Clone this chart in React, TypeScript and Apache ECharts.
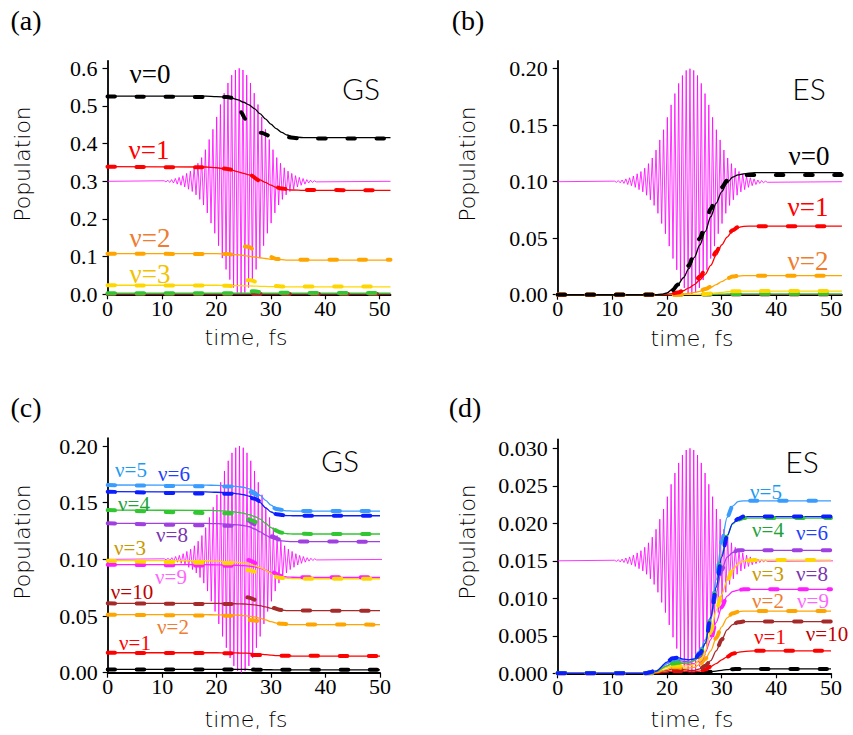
import React, { useEffect, useRef } from 'react';
import * as echarts from 'echarts';

type Pt = [number, number];

// ---------- laser pulse (carrier extrema, relative envelope per cycle) ----------
const PULSE_CENTER = 24.2; // fs
const PULSE_PERIOD = 0.69; // fs
const PULSE_ENV = [
  0.005, 0.01, 0.015, 0.025, 0.035, 0.05, 0.07, 0.09, 0.12, 0.16, 0.21, 0.28, 0.37, 0.46, 0.57, 0.68, 0.78, 0.87, 0.94, 0.985,
  1.0,
  0.985, 0.94, 0.87, 0.78, 0.68, 0.57, 0.46, 0.37, 0.28, 0.21, 0.16, 0.12, 0.09, 0.07, 0.05, 0.035, 0.025, 0.015, 0.01, 0.005,
];

// ---------- (a) ground state, low v ----------
const T_A = [0, 18, 20, 22, 23, 24, 25, 26, 27, 28, 29, 30, 31, 32, 33, 34, 36, 52];
const A_V0 = [0.526, 0.526, 0.525, 0.523, 0.52, 0.516, 0.51, 0.503, 0.493, 0.48, 0.466, 0.452, 0.44, 0.43, 0.423, 0.418, 0.416, 0.416];
const A_V1 = [0.339, 0.338, 0.336, 0.332, 0.329, 0.325, 0.321, 0.317, 0.311, 0.304, 0.297, 0.29, 0.284, 0.28, 0.278, 0.277, 0.276, 0.276];
const A_V2 = [0.108, 0.108, 0.108, 0.107, 0.106, 0.105, 0.103, 0.101, 0.099, 0.097, 0.095, 0.093, 0.092, 0.092, 0.091, 0.091, 0.091, 0.091];
const A_V3 = [0.024, 0.024, 0.024, 0.0235, 0.0232, 0.023, 0.0226, 0.0222, 0.0218, 0.0213, 0.0208, 0.0204, 0.02, 0.0198, 0.0196, 0.0195, 0.0195, 0.0195];
const A_V4 = [0.003, 0.003, 0.003, 0.003, 0.003, 0.003, 0.003, 0.003, 0.003, 0.003, 0.003, 0.003, 0.003, 0.003, 0.003, 0.003, 0.003, 0.003];
const A_V10 = [0.0008, 0.0008, 0.0008, 0.0008, 0.0008, 0.0008, 0.0008, 0.0008, 0.0008, 0.0008, 0.0008, 0.0008, 0.0008, 0.0008, 0.0008, 0.0008, 0.0008, 0.0008];
const A_V0_D: Pt[] = [[0, 0.525], [22, 0.524], [23.4, 0.52], [24.4, 0.516], [24.6, 0.482], [25.3, 0.466], [26, 0.452], [27, 0.44], [28.2, 0.429], [30, 0.42], [33, 0.417], [35.3, 0.414], [52, 0.414]];
const A_V1_D: Pt[] = [[0, 0.339], [20, 0.337], [22, 0.333], [24, 0.326], [26, 0.318], [28, 0.302], [30, 0.289], [32, 0.281], [34, 0.277], [52, 0.276]];
const A_V2_D: Pt[] = [[0, 0.108], [22, 0.107], [23.4, 0.105], [24.4, 0.104], [24.6, 0.128], [25.9, 0.126], [27, 0.118], [28.3, 0.11], [30, 0.099], [31, 0.094], [33, 0.092], [52, 0.092]];
const A_V3_D: Pt[] = [[0, 0.024], [22, 0.023], [23.4, 0.021], [24.4, 0.021], [24.6, 0.038], [26.2, 0.037], [28.6, 0.027], [30, 0.023], [32, 0.021], [52, 0.021]];
const A_V4_D: Pt[] = [[0, 0.003], [24.4, 0.003], [24.6, 0.009], [27, 0.008], [29, 0.004], [52, 0.003]];
const A_V10_D: Pt[] = [[0, 0.0008], [52, 0.0008]];

// ---------- (b) excited state, low v ----------
const T_B = [0, 18, 19, 20, 21, 22, 23, 24, 25, 26, 27, 28, 29, 30, 31, 32, 33, 34, 36, 52];
const B_V0 = [0, 0, 0.0005, 0.0015, 0.005, 0.009, 0.015, 0.023, 0.033, 0.044, 0.056, 0.069, 0.081, 0.091, 0.099, 0.104, 0.106, 0.107, 0.108, 0.108];
const B_V1 = [0, 0, 0, 0.0003, 0.001, 0.002, 0.0035, 0.006, 0.009, 0.013, 0.018, 0.026, 0.035, 0.044, 0.051, 0.0565, 0.0595, 0.0605, 0.0607, 0.0607];
const B_V2 = [0, 0, 0, 0, 0, 0.0003, 0.0007, 0.0012, 0.002, 0.003, 0.0045, 0.0065, 0.009, 0.0115, 0.014, 0.0157, 0.0165, 0.0168, 0.0168, 0.0168];
const B_V3 = [0, 0, 0, 0, 0, 0, 0, 0.0001, 0.0002, 0.0004, 0.0007, 0.0011, 0.0016, 0.0021, 0.0026, 0.003, 0.0031, 0.0032, 0.0032, 0.0032];
const B_V4 = [0, 0, 0, 0, 0, 0, 0, 0, 0.0001, 0.0001, 0.0002, 0.0003, 0.0004, 0.0005, 0.0006, 0.0007, 0.0007, 0.0008, 0.0008, 0.0008];
const B_V10 = [0.0001, 0.0001, 0.0001, 0.0001, 0.0001, 0.0001, 0.0001, 0.0001, 0.0001, 0.0001, 0.0001, 0.0001, 0.0001, 0.0001, 0.0001, 0.0001, 0.0001, 0.0001, 0.0001, 0.0001];
const B_V0_D: Pt[] = [[0, 0], [19, 0], [21, 0.004], [22, 0.009], [23, 0.016], [24, 0.026], [25, 0.038], [26, 0.05], [27, 0.063], [28, 0.076], [29, 0.087], [30, 0.095], [31, 0.101], [32, 0.104], [34, 0.106], [52, 0.106]];
const B_V1_D: Pt[] = [[0, 0], [20, 0], [22, 0.002], [24, 0.007], [25, 0.011], [26, 0.016], [27, 0.022], [28, 0.03], [29, 0.038], [30, 0.046], [31, 0.052], [32, 0.057], [33, 0.0598], [34, 0.0605], [52, 0.0607]];
const B_V2_D: Pt[] = [[0, 0], [22, 0], [24, 0.0015], [25, 0.0025], [26, 0.0035], [27, 0.005], [28, 0.007], [29, 0.0095], [30, 0.012], [31, 0.0145], [32, 0.016], [33, 0.0166], [34, 0.0168], [52, 0.0168]];

// ---------- (c) ground state, high v ----------
const T_C = [0, 18, 20, 22, 23, 24, 25, 26, 27, 28, 29, 30, 31, 32, 33, 34, 36, 50];
const C_V5 = [0.1656, 0.1655, 0.1653, 0.165, 0.1647, 0.1642, 0.1635, 0.1622, 0.16, 0.1565, 0.152, 0.1478, 0.1448, 0.1433, 0.1428, 0.1426, 0.1426, 0.1426];
const C_V6 = [0.1597, 0.1595, 0.1592, 0.1588, 0.1584, 0.1578, 0.157, 0.1557, 0.1535, 0.15, 0.1455, 0.1418, 0.1395, 0.1388, 0.1386, 0.1385, 0.1385, 0.1385];
const C_V4 = [0.1435, 0.1433, 0.143, 0.1425, 0.142, 0.1414, 0.1406, 0.1394, 0.1378, 0.1355, 0.1318, 0.128, 0.1248, 0.1232, 0.1226, 0.1224, 0.1224, 0.1224];
const C_V8 = [0.1318, 0.1317, 0.1315, 0.131, 0.1307, 0.1304, 0.1298, 0.1288, 0.1268, 0.1243, 0.1214, 0.1188, 0.1172, 0.1163, 0.1158, 0.1156, 0.1156, 0.1156];
const C_V3 = [0.099, 0.0988, 0.0985, 0.098, 0.0977, 0.0973, 0.0967, 0.0958, 0.0945, 0.0928, 0.0905, 0.0878, 0.0855, 0.084, 0.0833, 0.083, 0.0829, 0.0829];
const C_V9 = [0.0953, 0.0953, 0.0952, 0.095, 0.0949, 0.0947, 0.0944, 0.094, 0.0934, 0.0923, 0.0905, 0.0883, 0.0862, 0.0849, 0.0844, 0.0842, 0.0841, 0.0841];
const C_V10 = [0.0612, 0.0612, 0.0611, 0.061, 0.0609, 0.0608, 0.0606, 0.0603, 0.0598, 0.0591, 0.0581, 0.0568, 0.0557, 0.0551, 0.0548, 0.0547, 0.0547, 0.0547];
const C_V2 = [0.0512, 0.0512, 0.0511, 0.051, 0.0509, 0.0507, 0.0504, 0.0499, 0.0492, 0.0481, 0.0466, 0.045, 0.0438, 0.043, 0.0426, 0.0424, 0.0424, 0.0424];
const C_V1 = [0.0176, 0.0176, 0.0176, 0.0175, 0.0175, 0.0174, 0.0173, 0.0171, 0.0168, 0.0164, 0.016, 0.0155, 0.0151, 0.0149, 0.0148, 0.0147, 0.0147, 0.0147];
const C_V0 = [0.003, 0.003, 0.003, 0.003, 0.003, 0.0029, 0.0029, 0.0028, 0.0028, 0.0027, 0.0026, 0.0026, 0.0025, 0.0025, 0.0025, 0.0025, 0.0025, 0.0025];
const C_V5_D: Pt[] = [[0, 0.1656], [24, 0.1642], [25.4, 0.1632], [25.6, 0.1605], [27, 0.158], [28.2, 0.154], [29.5, 0.149], [31, 0.1445], [33, 0.1428], [50, 0.1426]];
const C_V6_D: Pt[] = [[0, 0.1597], [24, 0.1578], [25.4, 0.157], [25.6, 0.1555], [27, 0.1535], [28.2, 0.1505], [29.5, 0.145], [31, 0.1398], [33, 0.1386], [50, 0.1385]];
const C_V4_D: Pt[] = [[0, 0.1435], [25.4, 0.1404], [25.6, 0.1355], [28, 0.132], [30, 0.127], [32, 0.1235], [34, 0.1225], [50, 0.1224]];
const C_V8_D: Pt[] = [[0, 0.1318], [25.4, 0.1296], [25.6, 0.1348], [27, 0.131], [28.2, 0.1274], [30, 0.1205], [32, 0.1168], [34, 0.1157], [50, 0.1156]];
const C_V3_D: Pt[] = [[0, 0.0988], [25.4, 0.0965], [25.6, 0.0906], [28.2, 0.088], [30, 0.0855], [32, 0.0835], [34, 0.083], [50, 0.0829]];
const C_V9_D: Pt[] = [[0, 0.0953], [25.4, 0.0944], [25.6, 0.0995], [28.2, 0.095], [30, 0.089], [32, 0.0852], [34, 0.0843], [50, 0.0841]];
const C_V10_D: Pt[] = [[0, 0.0612], [25.4, 0.0605], [25.6, 0.0665], [28.2, 0.0627], [30, 0.0575], [32, 0.0553], [34, 0.0548], [50, 0.0547]];
const C_V2_D: Pt[] = [[0, 0.0512], [25.4, 0.0503], [25.6, 0.0465], [28.2, 0.0455], [30, 0.0445], [32, 0.0431], [34, 0.0425], [50, 0.0424]];
const C_V1_D: Pt[] = [[0, 0.0176], [25.4, 0.0172], [25.6, 0.0158], [28.2, 0.0155], [30, 0.0152], [32, 0.0149], [50, 0.0147]];
const C_V0_D: Pt[] = [[0, 0.0028], [25, 0.0028], [30, 0.0025], [50, 0.0025]];

// ---------- (d) excited state, high v ----------
const T_D = [0, 16, 18, 20, 21, 22, 23, 24, 25, 26, 27, 28, 29, 30, 31, 32, 33, 34, 36, 50];
const D_V5 = [0, 0, 0.0003, 0.0013, 0.0018, 0.0019, 0.0018, 0.0018, 0.002, 0.0028, 0.0045, 0.0075, 0.0125, 0.0176, 0.0208, 0.0223, 0.0229, 0.023, 0.023, 0.023];
const D_V6 = [0, 0, 0.0003, 0.0015, 0.002, 0.0021, 0.0019, 0.0018, 0.0019, 0.0026, 0.004, 0.0075, 0.0115, 0.0155, 0.0183, 0.02, 0.0206, 0.0209, 0.0209, 0.0209];
const D_V4 = [0, 0, 0.0002, 0.001, 0.0013, 0.0014, 0.0014, 0.0014, 0.0017, 0.0025, 0.004, 0.0075, 0.0115, 0.0158, 0.0184, 0.0199, 0.0205, 0.0207, 0.0207, 0.0207];
const D_V8 = [0, 0, 0.0003, 0.0013, 0.0017, 0.0017, 0.0016, 0.0015, 0.0017, 0.0023, 0.004, 0.0072, 0.0108, 0.0138, 0.0155, 0.0161, 0.0164, 0.0164, 0.0164, 0.0164];
const D_V3 = [0, 0, 0.0002, 0.0008, 0.001, 0.001, 0.001, 0.001, 0.0012, 0.0018, 0.003, 0.0055, 0.0084, 0.0105, 0.0124, 0.0138, 0.0146, 0.015, 0.0151, 0.0151];
const D_V9 = [0, 0, 0.0002, 0.001, 0.0014, 0.0014, 0.0013, 0.0012, 0.0013, 0.0017, 0.0028, 0.0045, 0.0068, 0.0088, 0.0103, 0.0109, 0.0111, 0.0112, 0.0112, 0.0112];
const D_V2 = [0, 0, 0.0001, 0.0005, 0.0008, 0.0008, 0.0007, 0.0007, 0.0008, 0.0012, 0.0019, 0.003, 0.0047, 0.0062, 0.0074, 0.008, 0.0082, 0.0083, 0.0083, 0.0083];
const D_V10 = [0, 0, 0.0001, 0.0004, 0.0006, 0.0006, 0.0005, 0.0004, 0.0004, 0.0006, 0.001, 0.0017, 0.003, 0.0045, 0.0058, 0.0065, 0.0068, 0.0069, 0.0069, 0.0069];
const D_V1 = [0, 0, 0, 0.0002, 0.0003, 0.0003, 0.0003, 0.0002, 0.0002, 0.0003, 0.0005, 0.0009, 0.0013, 0.0018, 0.0022, 0.0026, 0.0028, 0.0029, 0.003, 0.003];
const D_V0 = [0, 0, 0, 0.00005, 0.0001, 0.0001, 0.0001, 0.0001, 0.0001, 0.0001, 0.0001, 0.0002, 0.0003, 0.0004, 0.0005, 0.00055, 0.00058, 0.00058, 0.00058, 0.00058];

// ---------- ticks ----------
const X_TICKS = [0, 10, 20, 30, 40, 50];
const Y_TICKS_A = [0, 0.1, 0.2, 0.3, 0.4, 0.5, 0.6];
const Y_TICKS_BC = [0, 0.05, 0.1, 0.15, 0.2];
const Y_TICKS_D = [0, 0.005, 0.01, 0.015, 0.02, 0.025, 0.03];

const COL = {
  v0: '#000000', v1: '#ff0000', v2: '#ffa500', v3: '#ffd700', v4: '#33c633',
  v5: '#3a9cff', v6: '#0a1eff', v8: '#a040e0', v9: '#ff1eff', v10: '#a52a2a',
};

const zipT = (t: number[], v: number[]): Pt[] => t.map((x, i) => [x, v[i]]);

function pulse(base: number, amp: number): Pt[] {
  const pts: Pt[] = [[0, base]];
  const k0 = (PULSE_ENV.length - 1) / 2;
  PULSE_ENV.forEach((e, i) => {
    const t = PULSE_CENTER + (i - k0) * PULSE_PERIOD;
    pts.push([t, base + amp * e]);
    pts.push([t + PULSE_PERIOD / 2, base - amp * e]);
  });
  pts.push([52, base]);
  return pts;
}

type Curve = { c: string; s: Pt[]; d: Pt[] };

const PANELS: { curves: Curve[]; pulse: Pt[] }[] = [
  {
    pulse: pulse(0.3, 0.3),
    curves: [
      { c: COL.v10, s: zipT(T_A, A_V10), d: A_V10_D },
      { c: COL.v4, s: zipT(T_A, A_V4), d: A_V4_D },
      { c: COL.v3, s: zipT(T_A, A_V3), d: A_V3_D },
      { c: COL.v2, s: zipT(T_A, A_V2), d: A_V2_D },
      { c: COL.v1, s: zipT(T_A, A_V1), d: A_V1_D },
      { c: COL.v0, s: zipT(T_A, A_V0), d: A_V0_D },
    ],
  },
  {
    pulse: pulse(0.1, 0.1),
    curves: [
      { c: COL.v10, s: zipT(T_B, B_V10), d: zipT(T_B, B_V10) },
      { c: COL.v4, s: zipT(T_B, B_V4), d: zipT(T_B, B_V4) },
      { c: COL.v3, s: zipT(T_B, B_V3), d: zipT(T_B, B_V3) },
      { c: COL.v2, s: zipT(T_B, B_V2), d: B_V2_D },
      { c: COL.v1, s: zipT(T_B, B_V1), d: B_V1_D },
      { c: COL.v0, s: zipT(T_B, B_V0), d: B_V0_D },
    ],
  },
  {
    pulse: pulse(0.1, 0.1),
    curves: [
      { c: COL.v0, s: zipT(T_C, C_V0), d: C_V0_D },
      { c: COL.v1, s: zipT(T_C, C_V1), d: C_V1_D },
      { c: COL.v2, s: zipT(T_C, C_V2), d: C_V2_D },
      { c: COL.v10, s: zipT(T_C, C_V10), d: C_V10_D },
      { c: COL.v9, s: zipT(T_C, C_V9), d: C_V9_D },
      { c: COL.v3, s: zipT(T_C, C_V3), d: C_V3_D },
      { c: COL.v8, s: zipT(T_C, C_V8), d: C_V8_D },
      { c: COL.v4, s: zipT(T_C, C_V4), d: C_V4_D },
      { c: COL.v6, s: zipT(T_C, C_V6), d: C_V6_D },
      { c: COL.v5, s: zipT(T_C, C_V5), d: C_V5_D },
    ],
  },
  {
    pulse: pulse(0.015, 0.015),
    curves: [
      { c: COL.v0, s: zipT(T_D, D_V0), d: zipT(T_D, D_V0) },
      { c: COL.v1, s: zipT(T_D, D_V1), d: zipT(T_D, D_V1) },
      { c: COL.v10, s: zipT(T_D, D_V10), d: zipT(T_D, D_V10) },
      { c: COL.v2, s: zipT(T_D, D_V2), d: zipT(T_D, D_V2) },
      { c: COL.v9, s: zipT(T_D, D_V9), d: zipT(T_D, D_V9) },
      { c: COL.v3, s: zipT(T_D, D_V3), d: zipT(T_D, D_V3) },
      { c: COL.v8, s: zipT(T_D, D_V8), d: zipT(T_D, D_V8) },
      { c: COL.v5, s: zipT(T_D, D_V5), d: zipT(T_D, D_V5) },
      { c: COL.v4, s: zipT(T_D, D_V4), d: zipT(T_D, D_V4) },
      { c: COL.v6, s: zipT(T_D, D_V6), d: zipT(T_D, D_V6) },
    ],
  },
];

const GRIDS = [
  { left: 107.5, top: 60.8, width: 283, height: 233.5 },
  { left: 557.7, top: 60.8, width: 284.2, height: 233.9 },
  { left: 107.7, top: 438.1, width: 272.3, height: 234.6 },
  { left: 557.7, top: 439.3, width: 273.3, height: 234 },
];
const X_MAX = [52, 52, 50, 50];
const Y_MAX = [0.62, 0.207, 0.207, 0.0312];
const Y_TICKS = [Y_TICKS_A, Y_TICKS_BC, Y_TICKS_BC, Y_TICKS_D];
const Y_DEC = [1, 2, 2, 3];

const SERIF = '"Liberation Serif", "Times New Roman", serif';
const SANS = 'Lato, "Open Sans", sans-serif';
const TITLE = '"DejaVu Sans", sans-serif';

function txt(text: string, x: number, y: number, size: number, fill: string, family: string, rot = 0, weight: any = 'normal') {
  return {
    type: 'text', x, y, rotation: rot, silent: true, z: 100,
    style: {
      text, fill, fontSize: size, fontFamily: family, fontWeight: weight,
      textAlign: 'center', textVerticalAlign: 'middle', align: 'center', verticalAlign: 'middle',
    },
  };
}

const LBL = { v2: '#ee7d31', v3a: '#f2c200', v3: '#c99a00', v4: '#22a33a', v5: '#1e9bef', v6: '#1e40ff', v8: '#7b35b0', v9: '#ff66ff', v10: '#c00000' };

function buildOption() {
  const series: any[] = [];
  PANELS.forEach((p, i) => {
    series.push({
      type: 'line', xAxisIndex: i, yAxisIndex: i, data: p.pulse, symbol: 'none', clip: false,
      lineStyle: { color: '#ff00ff', width: 0.8 }, silent: true, z: 1,
    });
    p.curves.forEach((cv) => {
      series.push({
        type: 'line', xAxisIndex: i, yAxisIndex: i, data: cv.s, symbol: 'none', smooth: 0.3, smoothMonotone: 'x',
        lineStyle: { color: cv.c, width: 1.3 }, silent: true, z: 2,
      });
    });
    p.curves.forEach((cv) => {
      series.push({
        type: 'line', xAxisIndex: i, yAxisIndex: i, data: cv.d, symbol: 'none', smooth: 0.3, smoothMonotone: 'x',
        lineStyle: { color: cv.c, width: 4, type: [7.5, 21.6], cap: 'round' }, silent: true, z: 3,
      });
    });
  });

  const xAxis = GRIDS.map((_, i) => ({
    type: 'value', gridIndex: i, min: 0, max: X_MAX[i],
    axisLine: { show: true, onZero: false, lineStyle: { color: '#000', width: 1.8 } },
    axisTick: { show: true, length: 5, customValues: X_TICKS, lineStyle: { color: '#000', width: 1.2 } },
    axisLabel: { customValues: X_TICKS, fontFamily: SERIF, fontSize: 22, color: '#000', margin: 3 },
    splitLine: { show: false },
  }));
  const yAxis = GRIDS.map((_, i) => ({
    type: 'value', gridIndex: i, min: 0, max: Y_MAX[i],
    axisLine: { show: true, onZero: false, lineStyle: { color: '#000', width: 1.8 } },
    axisTick: { show: true, length: 5, customValues: Y_TICKS[i], lineStyle: { color: '#000', width: 1.2 } },
    axisLabel: {
      customValues: Y_TICKS[i], fontFamily: SERIF, fontSize: 22, color: '#000', margin: 10,
      formatter: (v: number) => v.toFixed(Y_DEC[i]),
    },
    splitLine: { show: false },
  }));

  const graphic = [
    // (a)
    txt('(a)', 26, 20, 28, '#000', SERIF),
    txt('ν=0', 150, 74, 27, '#000', SERIF),
    txt('ν=1', 149, 150, 27, COL.v1, SERIF),
    txt('ν=2', 150, 238, 27, LBL.v2, SERIF),
    txt('ν=3', 150, 274, 27, LBL.v3a, SERIF),
    txt('GS', 361, 88, 30, '#000', SANS, 0, 300),
    txt('Population', 22, 164, 22, '#000', TITLE, Math.PI / 2, 200),
    txt('time, fs', 246, 337, 22, '#000', TITLE, 0, 200),
    // (b)
    txt('(b)', 468, 20, 28, '#000', SERIF),
    txt('ν=0', 809, 156, 27, '#000', SERIF),
    txt('ν=1', 808, 207, 27, COL.v1, SERIF),
    txt('ν=2', 808, 261, 27, LBL.v2, SERIF),
    txt('ES', 809, 88, 30, '#000', SANS, 0, 300),
    txt('Population', 467, 164, 22, '#000', TITLE, Math.PI / 2, 200),
    txt('time, fs', 692, 338, 22, '#000', TITLE, 0, 200),
    // (c)
    txt('(c)', 26, 407, 28, '#000', SERIF),
    txt('ν=5', 131, 470, 21, LBL.v5, SERIF),
    txt('ν=6', 174, 474, 21, LBL.v6, SERIF),
    txt('ν=4', 134, 504, 21, LBL.v4, SERIF),
    txt('ν=8', 172, 535, 21, LBL.v8, SERIF),
    txt('ν=3', 130, 548, 21, LBL.v3, SERIF),
    txt('ν=9', 171, 577, 21, LBL.v9, SERIF),
    txt('ν=10', 132, 592, 21, LBL.v10, SERIF),
    txt('ν=2', 173, 627, 21, LBL.v2, SERIF),
    txt('ν=1', 135, 643, 21, COL.v1, SERIF),
    txt('GS', 340, 460, 30, '#000', SANS, 0, 300),
    txt('Population', 22, 542, 22, '#000', TITLE, Math.PI / 2, 200),
    txt('time, fs', 246, 719, 22, '#000', TITLE, 0, 200),
    // (d)
    txt('(d)', 465, 407, 28, '#000', SERIF),
    txt('ν=5', 766, 492, 21, LBL.v5, SERIF),
    txt('ν=4', 768, 530, 21, LBL.v4, SERIF),
    txt('ν=6', 812, 533, 21, LBL.v6, SERIF),
    txt('ν=3', 768, 574, 21, LBL.v3, SERIF),
    txt('ν=8', 812, 574, 21, LBL.v8, SERIF),
    txt('ν=2', 768, 601, 21, LBL.v2, SERIF),
    txt('ν=9', 813, 601, 21, LBL.v9, SERIF),
    txt('ν=1', 770, 637, 21, COL.v1, SERIF),
    txt('ν=10', 827, 634, 21, LBL.v10, SERIF),
    txt('ES', 802, 461, 30, '#000', SANS, 0, 300),
    txt('Population', 467, 542, 22, '#000', TITLE, Math.PI / 2, 200),
    txt('time, fs', 692, 719, 22, '#000', TITLE, 0, 200),
  ];

  return {
    animation: false,
    backgroundColor: '#ffffff',
    grid: GRIDS,
    xAxis,
    yAxis,
    series,
    graphic,
  };
}

export default function App() {
  const ref = useRef<HTMLDivElement>(null);
  useEffect(() => {
    const chart = echarts.init(ref.current!, null, { renderer: 'svg' });
    chart.setOption(buildOption() as any);
    return () => chart.dispose();
  }, []);
  return (
    <div
      ref={ref}
      style={{ position: 'fixed', left: 0, top: 0, width: 853, height: 735, background: '#fff' }}
    />
  );
}
